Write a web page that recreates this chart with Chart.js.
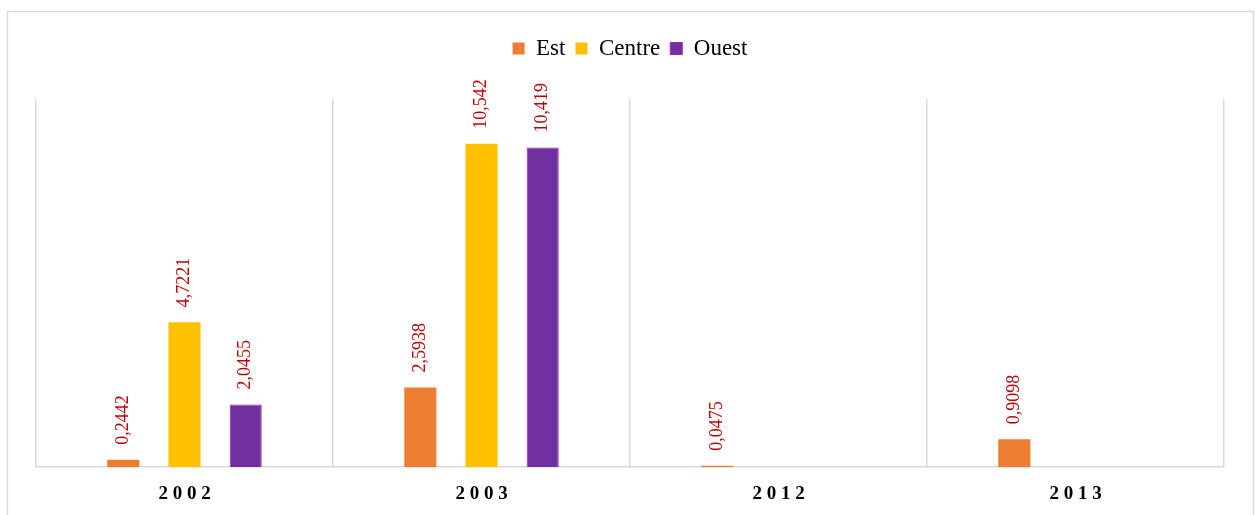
<!DOCTYPE html>
<html>
<head>
<meta charset="utf-8">
<script src="https://cdn.jsdelivr.net/npm/chart.js@4"></script>
<style>
    html, body { margin: 0; padding: 0; background: #fff; }
    #wrap { width: 1255px; height: 515px; }
</style>
</head>
<body>
<div id="wrap"><canvas id="chart" width="1255" height="515"></canvas></div>
<script>
var years = ['2002', '2003', '2012', '2013'];
var est = [0.2442, 2.5938, 0.0475, 0.9098];
var centre = [4.7221, 10.542, null, null];
var ouest = [2.0455, 10.419, null, null];
var yMax = 12;

// frame around the whole picture
const framePlugin = {
    id: 'frame',
    beforeDraw: function (chart) {
        var c = chart.ctx;
        c.save();
        c.fillStyle = '#ffffff';
        c.fillRect(0, 0, chart.width, chart.height);
        c.strokeStyle = '#d9d9d9';
        c.lineWidth = 1.5;
        c.strokeRect(7.5, 11.5, 1246, 530);
        c.restore();
    }
};

// push the plot down below the legend
const legendGap = {
    id: 'legendGap',
    beforeInit: function (chart) {
        var fit = chart.legend.fit;
        chart.legend.fit = function () {
            fit.bind(chart.legend)();
            this.height += 29;
        };
    }
};

// vertical value labels above each bar, with comma decimals
const valueLabels = {
    id: 'valueLabels',
    afterDatasetsDraw: function (chart) {
        var c = chart.ctx;
        c.save();
        c.fillStyle = '#c00000';
        c.font = '18px "Liberation Serif", "Times New Roman", serif';
        c.textAlign = 'left';
        c.textBaseline = 'middle';
        chart.data.datasets.forEach(function (ds, i) {
            chart.getDatasetMeta(i).data.forEach(function (bar, j) {
                var v = ds.data[j];
                if (v === null || v === undefined) return;
                c.save();
                c.translate(bar.x, bar.y - 15);
                c.rotate(-Math.PI / 2);
                c.fillText(String(v).replace('.', ','), 0, 0);
                c.restore();
            });
        });
        c.restore();
    }
};

var ctx = document.getElementById('chart').getContext('2d');

const data = {
    labels: years,
    datasets: [
        {
            label: 'Est',
            data: est,
            backgroundColor: '#ed7d31',
            borderColor: '#ed7d31',
            borderWidth: 0
        },
        {
            label: 'Centre',
            data: centre,
            backgroundColor: '#ffc000',
            borderColor: '#ffc000',
            borderWidth: 0
        },
        {
            label: 'Ouest',
            data: ouest,
            backgroundColor: '#7030a0',
            borderColor: '#a020b0',
            borderWidth: 1
        }
    ]
};

new Chart(ctx, {
    type: 'bar',
    data: data,
    plugins: [framePlugin, legendGap, valueLabels],
    options: {
        responsive: false,
        animation: false,
        categoryPercentage: 0.618,
        barPercentage: 0.525,
        layout: {
            padding: { top: 27, left: 36, right: 31, bottom: -5 }
        },
        scales: {
            x: {
                grid: {
                    display: true,
                    color: '#d9d9d9',
                    lineWidth: 1.5,
                    drawTicks: false,
                    offset: true
                },
                border: {
                    display: true,
                    color: '#d9d9d9',
                    width: 1.5
                },
                ticks: {
                    padding: 15,
                    color: '#000',
                    font: { family: '"Liberation Serif", "Times New Roman", serif', size: 19, weight: 'bold' },
                    callback: function (value) {
                        return this.getLabelForValue(value).split('').join(' ');
                    }
                }
            },
            y: {
                display: false,
                min: 0,
                max: yMax
            }
        },
        plugins: {
            tooltip: { enabled: false },
            legend: {
                position: 'top',
                align: 'center',
                labels: {
                    boxWidth: 12,
                    boxHeight: 12,
                    padding: 10,
                    color: '#000',
                    font: { family: '"Liberation Serif", "Times New Roman", serif', size: 23 }
                }
            }
        }
    }
});
</script>
</body>
</html>
